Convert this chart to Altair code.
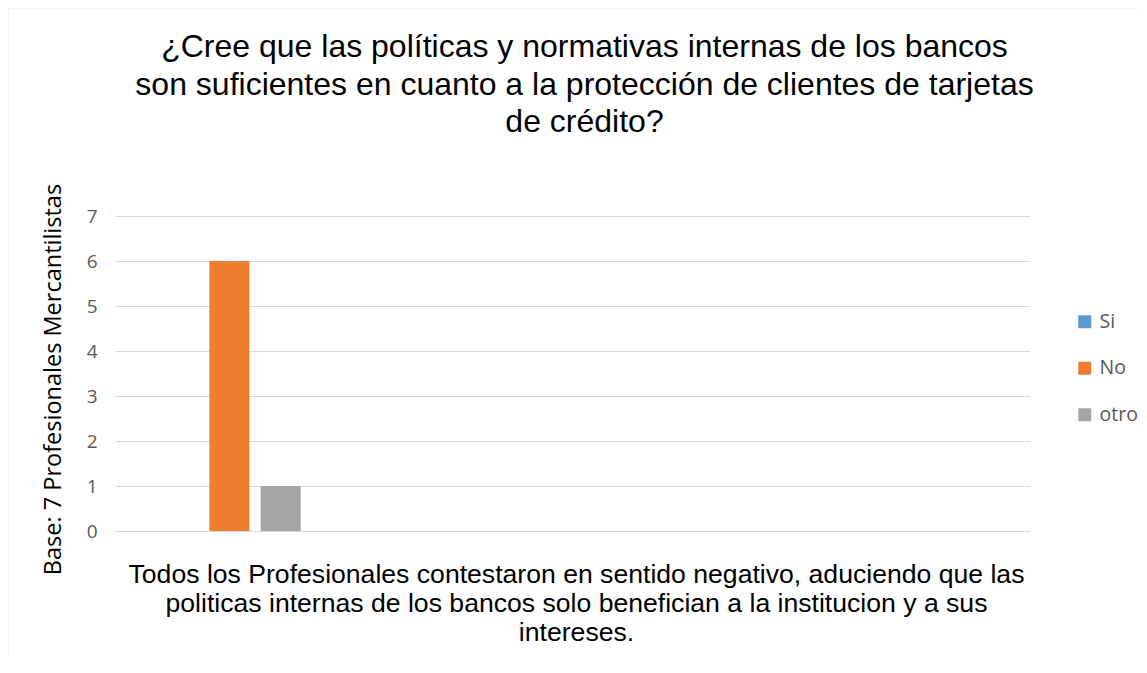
import altair as alt
import pandas as pd

# --- data -------------------------------------------------------------
categories = ["g1", "g2", "g3", "g4"]
series = ["Si", "No", "otro"]
values = [0, 6, 1]
colors = ["#5B9BD5", "#ED7D31", "#A5A5A5"]

title_lines = [
    "¿Cree que las políticas y normativas internas de los bancos",
    "son suficientes en cuanto a la protección de clientes de tarjetas",
    "de crédito?",
]
x_title_lines = [
    "Todos los Profesionales contestaron en sentido negativo, aduciendo que las",
    "politicas internas de los bancos  solo benefician a la institucion y a sus",
    "intereses.",
]
y_title = "Base: 7 Profesionales Mercantilistas"
y_ticks = [0, 1, 2, 3, 4, 5, 6, 7]

df = pd.DataFrame({
    "cat": [categories[0]] * len(series),
    "serie": series,
    "valor": values,
})

W, H = 915, 315
SANS = "Open Sans"

bars = alt.Chart(df).mark_bar(strokeWidth=0).encode(
    x=alt.X(
        "cat:N",
        scale=alt.Scale(domain=categories, paddingInner=0, paddingOuter=0),
        axis=alt.Axis(
            title=x_title_lines,
            labels=False, ticks=False, domain=False, grid=False,
            titleFont="Liberation Sans", titleFontSize=26.6, titleFontWeight="normal",
            titleColor="#000000", titleLineHeight=29, titlePadding=30, titleX=461,
        ),
    ),
    xOffset=alt.XOffset(
        "serie:N",
        scale=alt.Scale(domain=series, paddingInner=0.22, paddingOuter=0.84),
    ),
    y=alt.Y(
        "valor:Q",
        scale=alt.Scale(domain=[0, 7], nice=False),
        axis=alt.Axis(
            title=y_title, values=y_ticks, ticks=False, domain=False,
            grid=True, gridColor="#D9D9D9", gridWidth=1,
            labelFont=SANS, labelFontSize=19, labelColor="#595959",
            labelPadding=18,
            titleFont=SANS, titleFontSize=23.5, titleFontWeight="normal",
            titleColor="#000000", titleAngle=-90, titleX=-62, titleY=163,
            titleAlign="center", titleBaseline="middle",
        ),
    ),
    color=alt.Color(
        "serie:N",
        scale=alt.Scale(domain=series, range=colors),
        legend=alt.Legend(
            title=None, orient="none", legendX=960, legendY=96, padding=0,
            symbolType="square", symbolSize=169, symbolStrokeWidth=0,
            labelFont=SANS, labelFontSize=19.5, labelColor="#595959",
            rowPadding=25.5, labelOffset=5,
        ),
    ),
)

frame = alt.Chart(alt.Data(values=[{"k": 1}])).mark_rect(
    fill=None, stroke="#D9D9D9", strokeWidth=1.5
).encode(
    x=alt.value(-107.5), x2=alt.value(W + 140),
    y=alt.value(-208.5), y2=alt.value(H + 200),
)

chart = alt.layer(frame, bars).properties(
    width=W,
    height=H,
    background="white",
    title=alt.TitleParams(
        text=title_lines, font="Liberation Sans", fontSize=32, fontWeight="normal",
        color="#000000", anchor="middle", frame="group", lineHeight=37.5,
        offset=-132.5, dx=12,
    ),
    autosize=alt.AutoSizeParams(type="none"),
    padding={"left": 107, "top": 208, "right": 109, "bottom": 125},
).configure_view(stroke=None)

chart.save("out.html", embed_options={"renderer": "svg", "actions": False})
